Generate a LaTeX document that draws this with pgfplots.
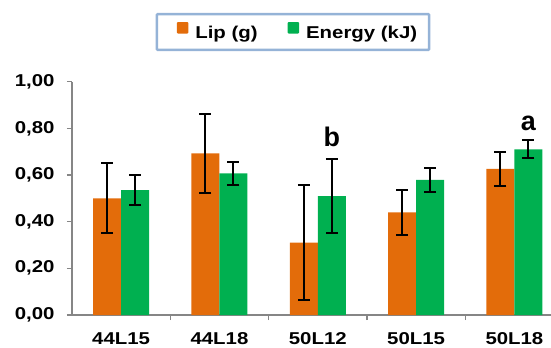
\documentclass[border=0pt]{standalone}
\usepackage{pgfplots}
\pgfplotsset{compat=1.18}
\usepackage{fontspec}
\setmainfont{Liberation Sans}[FakeStretch=1.19]
\newfontfamily\letterfont{Liberation Sans}
\definecolor{lip}{RGB}{227,108,10}
\definecolor{en}{RGB}{0,176,80}
\definecolor{axgray}{RGB}{134,134,134}
\definecolor{legb}{RGB}{149,179,215}
\begin{document}
\begin{tikzpicture}
\begin{axis}[
  scale only axis, width=479bp, height=233.3bp,
  ybar, bar width=28bp,
  xmin=-0.5, xmax=4.372, ymin=0, ymax=1,
  axis x line=bottom, axis y line=left,
  axis line style={-, draw=axgray, line width=1.5bp},
  tick style={draw=axgray, line width=1.5bp},
  tick align=outside,
  major tick length=5bp, minor tick length=5bp,
  ytick={0,0.2,0.4,0.6,0.8,1},
  /pgf/number format/assume math mode=true,
  yticklabel={\pgfmathprintnumber[fixed,fixed zerofill,precision=2,use comma]{\tick}},
  yticklabel style={xshift=-9bp},
  xtick={0,1,2,3,4},
  xticklabels={44L15,44L18,50L12,50L15,50L18},
  xticklabel style={yshift=-9bp},
  major x tick style={draw=none},
  minor xtick={0.5,1.5,2.5,3.5},
  ticklabel style={font=\fontsize{17.2}{20}\selectfont\bfseries},
  legend style={at={(0.4614,1.213)}, anchor=center, draw=legb, line width=2.5bp,
    rounded corners=1bp, font=\fontsize{17.2}{20}\selectfont\bfseries,
    inner xsep=12bp, inner ysep=8bp,
    nodes={inner xsep=0bp},
    /tikz/every odd column/.append style={column sep=7bp},
    /tikz/every even column/.append style={column sep=22bp}},
  legend columns=2,
  legend image code/.code={\path (0bp,0bp); \fill[#1,draw=none] (8bp,-0.5bp) rectangle (19.5bp,11bp);},
  clip=false,
]
\addplot[bar shift=-14bp, fill=lip, draw=none,
  error bars/.cd, y dir=both, y explicit,
  error bar style={black, line width=2bp},
  error mark options={rotate=90, black, mark size=6bp, line width=2bp}]
  coordinates {(0,0.500) +- (0,0.150) (1,0.693) +- (0,0.170) (2,0.310) +- (0,0.247) (3,0.440) +- (0,0.095) (4,0.626) +- (0,0.074)};
\addlegendentry{Lip (g)}
\addplot[bar shift=14bp, fill=en, draw=none,
  error bars/.cd, y dir=both, y explicit,
  error bar style={black, line width=2bp},
  error mark options={rotate=90, black, mark size=6bp, line width=2bp}]
  coordinates {(0,0.535) +- (0,0.063) (1,0.607) +- (0,0.048) (2,0.510) +- (0,0.157) (3,0.579) +- (0,0.052) (4,0.710) +- (0,0.039)};
\addlegendentry{Energy (kJ)}
\node[anchor=base, font=\letterfont\fontsize{27}{30}\selectfont\bfseries, xshift=14bp] at (axis cs:2,0.722) {b};
\node[anchor=base, font=\letterfont\fontsize{27}{30}\selectfont\bfseries, xshift=14bp] at (axis cs:4,0.789) {a};
\end{axis}
\pgfresetboundingbox
\path[use as bounding box] (-72bp,-33bp) rectangle (479bp,315bp);
\end{tikzpicture}
\end{document}
